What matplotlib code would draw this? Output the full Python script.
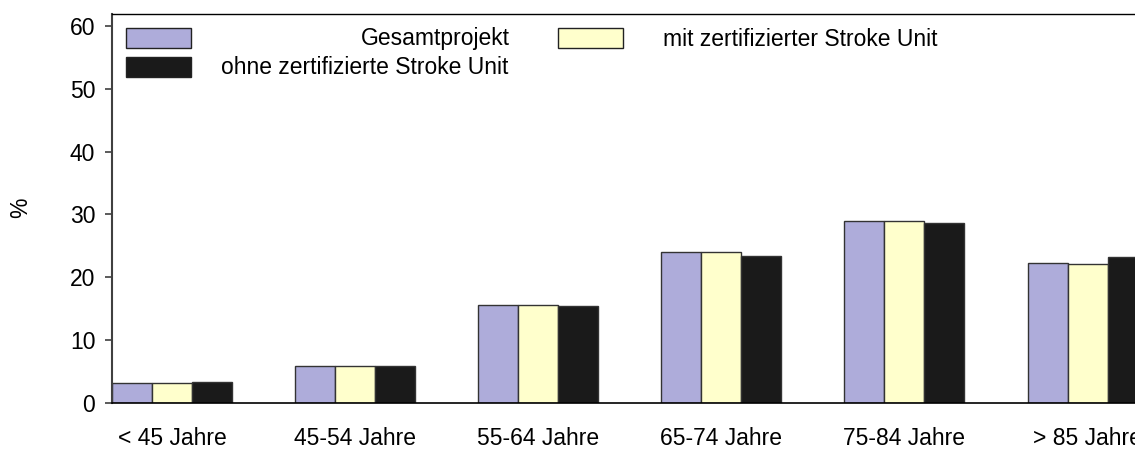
#!/usr/bin/env python3
import matplotlib
matplotlib.use("Agg")
import matplotlib.pyplot as plt
from matplotlib.patches import Rectangle
import numpy as np

# age groups and share of patients (%)
categories = ["< 45 Jahre", "45-54 Jahre", "55-64 Jahre",
              "65-74 Jahre", "75-84 Jahre", "> 85 Jahre"]
gesamt = [3.2, 5.9, 15.6, 24.0, 28.9, 22.3]
mit_su = [3.2, 5.9, 15.6, 24.0, 28.9, 22.1]
ohne_su = [3.3, 5.9, 15.5, 23.4, 28.7, 23.2]

series_names = ["Gesamtprojekt", "mit zertifizierter Stroke Unit",
                "ohne zertifizierte Stroke Unit"]
series_colors = ["#AEACDA", "#FFFFCC", "#1A1A1A"]

W, H = 1135, 450
FS = 16.5


def fx(px):
    return px / W


def fy(py):
    return 1 - py / H


def main():
    plt.rcParams['font.family'] = ['Liberation Sans', 'DejaVu Sans']
    fig = plt.figure(figsize=(W / 100, H / 100), dpi=100)
    ax = fig.add_axes([fx(112), fy(403), 1 - fx(112), (403 - 14) / H])

    x = np.arange(len(categories))
    bw = 0.2185
    for i, vals in enumerate([gesamt, mit_su, ohne_su]):
        ax.bar(x + (i - 1) * bw, vals, width=bw, color=series_colors[i],
               edgecolor="#333333", linewidth=1.0, label=series_names[i])

    ax.set_xlim(-0.3277, 5.259)
    ax.set_ylim(0, 61.9)
    ax.set_yticks(range(0, 61, 10))
    ax.set_xticks(x)
    ax.set_xticklabels(categories)
    ax.tick_params(axis='x', length=0, pad=17.5, labelsize=FS)
    ax.tick_params(axis='y', length=5, width=1.2, pad=7, labelsize=FS,
                   color="#404040")
    ax.spines['right'].set_visible(False)
    ax.spines['left'].set_color("#404040")
    ax.spines['left'].set_linewidth(1.5)
    ax.spines['top'].set_linewidth(1.0)
    ax.spines['bottom'].set_linewidth(1.2)

    fig.text(fx(21), fy(208), "%", rotation=90, ha='center', va='center',
             fontsize=FS)

    # legend drawn by hand (Excel style layout)
    boxes = [(125.7, 28), (558, 28), (125.7, 57)]
    for (bx, by), col in zip(boxes, series_colors):
        ax.add_patch(Rectangle((fx(bx), fy(by + 20)), 65 / W, 20 / H,
                               transform=fig.transFigure, clip_on=False,
                               facecolor=col, edgecolor="#222222", lw=1.0))
    fig.text(fx(510), fy(39), series_names[0], ha='right', va='center',
             fontsize=FS)
    fig.text(fx(663), fy(39), series_names[1], ha='left', va='center',
             fontsize=FS)
    fig.text(fx(508), fy(67), series_names[2], ha='right', va='center',
             fontsize=FS)

    fig.savefig("out.png", dpi=100)


if __name__ == "__main__":
    main()
